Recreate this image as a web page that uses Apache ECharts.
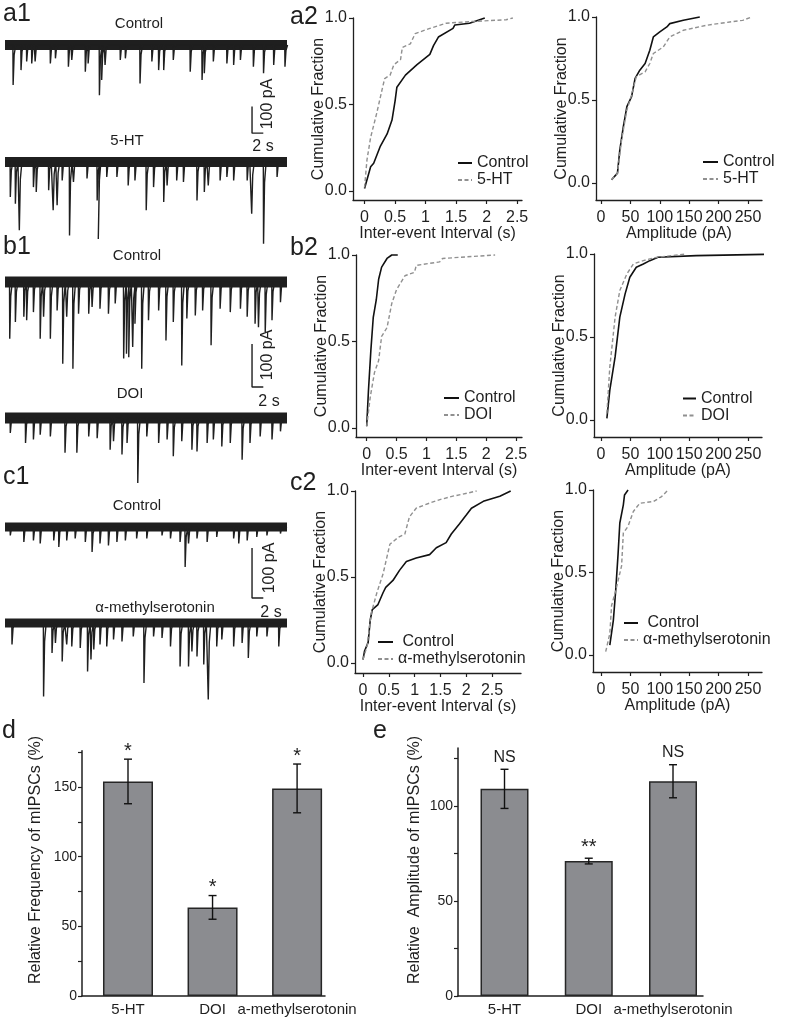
<!DOCTYPE html>
<html><head><meta charset="utf-8">
<script src="https://cdn.jsdelivr.net/npm/echarts@6/dist/echarts.min.js"></script>
<style>html,body{margin:0;padding:0;background:#fff}#c{width:787px;height:1022px}</style>
</head><body><div id="c"></div>
<script>
// ---------------- DATA ----------------
// Trace events: [time (s), amplitude (pA)], inward (downward) currents
const traceDuration = 50;
const a1Control = [[1.4,150],[2.8,94],[3.8,62],[4.7,69],[5.3,62],[8.0,69],[8.9,50],[11.2,81],[11.8,56],[14.2,100],[14.7,69],[16.7,188],[17.1,131],[17.7,75],[20.4,56],[21.3,50],[23.9,144],[26.0,62],[27.2,94],[28.1,94],[29.8,56],[32.8,100],[34.9,131],[35.3,106],[36.9,62],[39.3,69],[40.5,75],[41.7,56],[44.0,81],[45.8,106],[47.6,75],[49.6,81]];
const a1FiveHT = [[0.9,131],[1.8,156],[2.5,256],[5.0,94],[5.5,112],[7.7,106],[8.5,181],[9.2,162],[10.1,69],[11.4,275],[12.1,75],[14.5,62],[16.3,144],[16.5,288],[18.0,56],[19.8,56],[21.8,88],[23.0,69],[25.0,181],[26.3,94],[28.1,150],[28.7,88],[30.4,69],[31.6,75],[34.0,144],[35.3,112],[36.0,88],[38.1,69],[39.3,56],[40.5,69],[42.9,69],[43.7,194],[45.8,306],[48.2,56]];
const b1Control = [[0.8,132],[1.8,93],[3.3,81],[3.8,89],[5.0,70],[6.2,132],[6.8,81],[8.0,132],[9.2,66],[10.2,190],[10.9,81],[12.0,202],[13.0,74],[14.8,74],[15.4,58],[16.8,62],[18.3,74],[19.5,50],[21.0,178],[21.5,167],[21.9,175],[22.6,151],[23.0,97],[24.2,202],[25.4,89],[27.2,66],[28.5,136],[29.8,93],[31.3,194],[32.2,85],[33.7,78],[35.0,66],[36.5,147],[38.1,62],[39.9,70],[41.7,62],[42.9,81],[44.3,97],[44.9,105],[46.1,116],[47.3,89],[48.8,47]];
const b1DOI = [[0.9,35],[3.6,58],[5.0,50],[6.2,39],[8.0,43],[10.6,81],[12.7,81],[14.8,43],[16.3,47],[18.6,74],[19.2,54],[20.7,85],[21.6,58],[23.5,151],[25.1,43],[27.2,58],[28.7,50],[29.8,89],[31.3,54],[33.1,74],[34.0,78],[35.8,58],[36.9,50],[38.4,66],[39.9,58],[42.0,97],[43.4,58],[45.2,43],[47.3,50],[48.8,31]];
const c1Control = [[0.9,17],[3.3,30],[5.0,27],[6.2,33],[8.6,27],[9.5,40],[10.9,27],[12.4,23],[14.2,30],[15.4,50],[16.8,33],[18.3,37],[19.8,30],[21.3,27],[23.3,23],[25.1,23],[27.8,17],[29.3,23],[31.0,30],[31.9,80],[32.5,33],[34.0,23],[35.8,30],[37.5,20],[40.5,23],[41.4,33],[42.9,27],[44.6,20],[46.4,17],[48.8,13]];
const c1Alpha = [[1.2,43],[6.8,147],[8.3,60],[8.9,40],[10.1,77],[10.9,43],[11.8,47],[13.3,50],[14.6,97],[15.2,73],[15.7,53],[16.8,43],[18.0,47],[19.2,33],[20.7,37],[22.7,27],[24.6,120],[26.3,27],[27.8,30],[29.3,47],[31.0,87],[32.5,87],[33.1,57],[34.0,67],[35.2,83],[36.0,153],[37.5,47],[38.4,33],[40.5,47],[42.0,40],[43.1,70],[44.6,27],[46.4,27],[48.5,47]];
// scale bars: [x (s), y (pA)] path: 100 pA vertical, 2 s horizontal
const scaleBarA = [[43.8,208],[43.8,108],[45.8,108]];
const scaleBarB = [[43.8,172],[43.8,72],[45.8,72]];
const scaleBarC = [[43.8,150],[43.8,50],[45.8,50]];

// Cumulative distributions: [value, fraction]
const a2IntervalControl = [[0,0.015],[0.1,0.14],[0.15,0.16],[0.26,0.26],[0.37,0.33],[0.45,0.41],[0.5,0.52],[0.53,0.6],[0.67,0.67],[0.86,0.73],[1.07,0.79],[1.13,0.84],[1.21,0.89],[1.45,0.94],[1.48,0.96],[1.72,0.97],[1.97,1.0]];
const a2IntervalFiveHT = [[0,0.02],[0.04,0.18],[0.1,0.31],[0.2,0.45],[0.29,0.59],[0.33,0.65],[0.42,0.67],[0.48,0.73],[0.59,0.76],[0.62,0.83],[0.75,0.85],[0.83,0.91],[1.07,0.94],[1.34,0.97],[1.78,0.98],[2.32,0.99],[2.43,1.0]];
const a2AmpControl = [[18,0.02],[28,0.06],[32,0.2],[38,0.34],[44,0.46],[52,0.52],[58,0.63],[66,0.68],[75,0.72],[83,0.8],[89,0.88],[100,0.91],[112,0.94],[117,0.96],[140,0.98],[168,1.0]];
const a2AmpFiveHT = [[18,0.02],[28,0.06],[35,0.26],[44,0.44],[52,0.53],[60,0.64],[75,0.67],[83,0.72],[89,0.78],[106,0.82],[117,0.88],[140,0.92],[179,0.95],[219,0.97],[241,0.98],[256,1.0]];
const b2IntervalControl = [[0,0.01],[0.03,0.22],[0.07,0.45],[0.11,0.64],[0.16,0.74],[0.2,0.86],[0.25,0.93],[0.34,0.98],[0.42,1.0],[0.52,1.0]];
const b2IntervalDOI = [[0,0.01],[0.06,0.18],[0.13,0.32],[0.2,0.39],[0.25,0.53],[0.34,0.58],[0.42,0.72],[0.5,0.8],[0.64,0.88],[0.8,0.9],[0.83,0.94],[1.22,0.96],[1.27,0.98],[2.15,1.0]];
const b2AmpControl = [[10,0.01],[15,0.18],[24,0.38],[32,0.62],[41,0.76],[49,0.86],[60,0.92],[72,0.94],[83,0.96],[97,0.98],[162,0.99],[316,1.0]];
const b2AmpDOI = [[10,0.04],[15,0.32],[24,0.62],[32,0.78],[44,0.88],[55,0.94],[72,0.96],[94,0.98],[145,1.0]];
const c2IntervalControl = [[0,0.02],[0.03,0.07],[0.1,0.12],[0.14,0.25],[0.18,0.31],[0.29,0.34],[0.39,0.41],[0.44,0.44],[0.58,0.48],[0.71,0.54],[0.84,0.59],[1.03,0.61],[1.29,0.63],[1.42,0.67],[1.61,0.7],[1.71,0.75],[1.87,0.81],[2.0,0.86],[2.1,0.9],[2.33,0.94],[2.65,0.97],[2.86,1.0]];
const c2IntervalAlpha = [[0,0.02],[0.08,0.1],[0.16,0.29],[0.27,0.41],[0.39,0.52],[0.52,0.69],[0.68,0.73],[0.81,0.75],[0.9,0.85],[1.03,0.9],[1.29,0.93],[1.49,0.95],[1.74,0.97],[1.91,0.98],[2.2,1.0]];
const c2AmpControl = [[15,0.06],[18,0.07],[21,0.21],[25,0.39],[29,0.61],[32,0.8],[38,0.91],[40,0.97],[46,1.0]];
const c2AmpAlpha = [[8,0.02],[15,0.13],[18,0.3],[25,0.39],[35,0.54],[38,0.74],[46,0.78],[55,0.87],[66,0.92],[89,0.93],[103,0.96],[114,1.0]];

const intervalTicks = [0,0.5,1,1.5,2,2.5];
const ampTicks = [0,50,100,150,200,250];
const fractionTicks = [0,0.5,1];

// Bar charts
const barCategories = ['5-HT','DOI','a-methylserotonin'];
const freqMeans = [154, 63.6, 149];
const freqErr = [16, 8.5, 17.5];
const freqSig = ['*','*','*'];
const freqTicks = [0,25,50,75,100,125,150,175];
const freqLabels = [0,50,100,150];
const ampMeans = [109, 71, 113];
const ampErr = [10.3, 1.5, 8.7];
const ampSig = ['NS','**','NS'];
const ampTicksBar = [0,25,50,75,100,125];
const ampLabelsBar = [0,50,100];

// ---------------- CHART ----------------
const FONT = '"Liberation Sans", Arial, Helvetica, sans-serif';
const INK = '#1f1f1f';
const GRAY = '#909090';
const chart = echarts.init(document.getElementById('c'), null, {renderer:'canvas'});

const option = {animation:false, textStyle:{fontFamily:FONT, color:INK},
  grid:[], xAxis:[], yAxis:[], series:[], legend:[], graphic:[]};

function spikePath(events){
  const pts=[[0,0]];
  events.forEach(([t,a])=>{pts.push([t,0],[t+0.04,-a],[t+0.22,-a*0.25],[t+0.5,0]);});
  pts.push([traceDuration,0]);
  return pts;
}

const traces = [
  {ev:a1Control, base:45, scale:0.267, yMax:40, yMin:-330, band:10},
  {ev:a1FiveHT, base:162, scale:0.267, yMax:40, yMin:-330, band:10, bar:scaleBarA},
  {ev:b1Control, base:282, scale:0.43, yMax:25, yMin:-250, band:11},
  {ev:b1DOI, base:418, scale:0.43, yMax:25, yMin:-250, band:11, bar:scaleBarB},
  {ev:c1Control, base:527, scale:0.5, yMax:20, yMin:-200, band:9},
  {ev:c1Alpha, base:623, scale:0.5, yMax:20, yMin:-200, band:9, bar:scaleBarC}
];
traces.forEach((tr,i)=>{
  option.grid.push({left:5, top:tr.base-tr.yMax*tr.scale, width:282, height:(tr.yMax-tr.yMin)*tr.scale});
  option.xAxis.push({type:'value', gridIndex:i, min:0, max:traceDuration, show:false});
  option.yAxis.push({type:'value', gridIndex:i, min:tr.yMin, max:tr.yMax, show:false});
  option.series.push({type:'line', xAxisIndex:i, yAxisIndex:i, data:[[0,0],[traceDuration,0]], symbol:'none', silent:true,
    lineStyle:{color:INK, width:tr.band}});
  option.series.push({type:'line', xAxisIndex:i, yAxisIndex:i, data:spikePath(tr.ev), symbol:'none', silent:true, clip:false,
    lineStyle:{color:INK, width:1.4}});
  if(tr.bar){
    option.series.push({type:'line', xAxisIndex:i, yAxisIndex:i, data:tr.bar, symbol:'none', silent:true, clip:false,
      lineStyle:{color:INK, width:1.4}});
  }
});

const cdfs = [
  {left:353, top:18, width:169, height:182, xMin:-0.189, xMax:2.58, yMin:-0.052, ticks:intervalTicks, xName:'Inter-event Interval (s)',
   ctrl:a2IntervalControl, trt:a2IntervalFiveHT, trtName:'5-HT', leg:{left:457, top:154.5, w:14}},
  {left:596, top:17, width:166, height:183, xMin:-8.5, xMax:273.8, yMin:-0.102, ticks:ampTicks, xName:'Amplitude (pA)',
   ctrl:a2AmpControl, trt:a2AmpFiveHT, trtName:'5-HT', leg:{left:702, top:153.5, w:15}},
  {left:356, top:255, width:166, height:182, xMin:-0.179, xMax:2.6, yMin:-0.052, ticks:intervalTicks, xName:'Inter-event Interval (s)',
   ctrl:b2IntervalControl, trt:b2IntervalDOI, trtName:'DOI', leg:{left:443, top:389.5, w:15}},
  {left:594, top:254, width:168, height:183, xMin:-11.9, xMax:273.8, yMin:-0.102, ticks:ampTicks, xName:'Amplitude (pA)',
   ctrl:b2AmpControl, trt:b2AmpDOI, trtName:'DOI', leg:{left:682, top:390, w:13}},
  {left:355, top:491, width:166, height:182, xMin:-0.155, xMax:3.06, yMin:-0.058, ticks:intervalTicks, xName:'Inter-event Interval (s)',
   ctrl:c2IntervalControl, trt:c2IntervalAlpha, trtName:'α-methylserotonin', leg:{left:377, top:633.5, w:15, pad:true}},
  {left:593, top:490, width:169, height:182, xMin:-13.6, xMax:273.8, yMin:-0.103, ticks:ampTicks, xName:'Amplitude (pA)',
   ctrl:c2AmpControl, trt:c2AmpAlpha, trtName:'α-methylserotonin', leg:{left:623, top:614.5, w:14, pad:true}}
];
cdfs.forEach((c,k)=>{
  const gi = option.grid.length;
  option.grid.push({left:c.left, top:c.top, width:c.width, height:c.height});
  option.xAxis.push({type:'value', gridIndex:gi, min:c.xMin, max:c.xMax,
    axisLine:{show:true, onZero:false, lineStyle:{color:INK, width:1.3}},
    axisTick:{show:true, customValues:c.ticks, length:4, lineStyle:{color:INK, width:1.2}},
    axisLabel:{show:true, customValues:c.ticks, fontSize:16, color:INK, margin:10, formatter:v=>String(v)},
    splitLine:{show:false},
    name:c.xName, nameLocation:'middle', nameGap:26, nameMoveOverlap:false, nameTextStyle:{fontSize:16, color:INK}});
  option.yAxis.push({type:'value', gridIndex:gi, min:c.yMin, max:1,
    axisLine:{show:true, onZero:false, lineStyle:{color:INK, width:1.3}},
    axisTick:{show:true, customValues:fractionTicks, length:4, lineStyle:{color:INK, width:1.2}},
    axisLabel:{show:true, customValues:fractionTicks, fontSize:16, color:INK, margin:6, formatter:v=>v.toFixed(1)},
    splitLine:{show:false},
    name:'Cumulative Fraction', nameLocation:'middle', nameGap:26, nameMoveOverlap:false, nameTextStyle:{fontSize:16, color:INK}});
  option.series.push({type:'line', name:'Control', xAxisIndex:gi, yAxisIndex:gi, data:c.ctrl, symbol:'none', clip:false,
    lineStyle:{color:'#111', width:1.6}, itemStyle:{color:'#111'}});
  option.series.push({type:'line', name:c.trtName, xAxisIndex:gi, yAxisIndex:gi, data:c.trt, symbol:'none', clip:false,
    lineStyle:{color:GRAY, width:1.4, type:[4,2.5]}, itemStyle:{color:GRAY}});
  option.legend.push({left:c.leg.left, top:c.leg.top, orient:'vertical', padding:0, itemGap:0,
    itemWidth:c.leg.w, itemHeight:12, selectedMode:false, data:['Control', c.trtName],
    itemStyle:{opacity:0},
    formatter: c.leg.pad ? (n => n==='Control' ? ' Control' : n) : (n=>n),
    textStyle:{fontSize:16, color:INK, lineHeight:17}});
});

function errRenderer(sig){
  return function(params, api){
    const x=api.value(0), m=api.value(1), e=api.value(2);
    const t=api.coord([x,m+e]), b=api.coord([x,m-e]);
    const s=sig[params.dataIndex];
    const cap=4, st={stroke:'#111', lineWidth:1.4};
    return {type:'group', children:[
      {type:'line', shape:{x1:t[0],y1:t[1],x2:b[0],y2:b[1]}, style:st},
      {type:'line', shape:{x1:t[0]-cap,y1:t[1],x2:t[0]+cap,y2:t[1]}, style:st},
      {type:'line', shape:{x1:b[0]-cap,y1:b[1],x2:b[0]+cap,y2:b[1]}, style:st},
      {type:'text', style:{text:s, x:t[0], y:t[1]-(s==='NS'?12:(s==='**'?11:8)),
        textAlign:'center', textVerticalAlign:'middle', fontSize:s==='NS'?16:20,
        fontFamily:FONT, fill:INK}}
    ]};
  };
}

const bars = [
  {left:82, top:750.8, width:243, height:245.2, xMin:0.456, xMax:3.33, yMax:176, ticks:freqTicks, labels:freqLabels,
   means:freqMeans, err:freqErr, sig:freqSig, barWidth:50},
  {left:458, top:748, width:245, height:248, xMin:0.448, xMax:3.356, yMax:130.5, ticks:ampTicksBar, labels:ampLabelsBar,
   means:ampMeans, err:ampErr, sig:ampSig, barWidth:48}
];
bars.forEach(b=>{
  const gi = option.grid.length;
  option.grid.push({left:b.left, top:b.top, width:b.width, height:b.height});
  option.xAxis.push({type:'value', gridIndex:gi, min:b.xMin, max:b.xMax,
    axisLine:{show:true, onZero:false, lineStyle:{color:INK, width:1.5}},
    axisTick:{show:false},
    axisLabel:{show:true, customValues:[1,2,3], fontSize:15, color:INK, margin:6, formatter:v=>barCategories[Math.round(v)-1]},
    splitLine:{show:false}});
  option.yAxis.push({type:'value', gridIndex:gi, min:0, max:b.yMax,
    axisLine:{show:true, onZero:false, lineStyle:{color:INK, width:1.5}},
    axisTick:{show:true, customValues:b.ticks, length:4, lineStyle:{color:INK, width:1.2}},
    axisLabel:{show:true, customValues:b.labels, fontSize:14, color:INK, margin:5},
    splitLine:{show:false}});
  option.series.push({type:'bar', xAxisIndex:gi, yAxisIndex:gi, barWidth:b.barWidth, silent:true,
    data:b.means.map((v,i)=>[i+1,v]),
    itemStyle:{color:'#8b8c90', borderColor:'#262626', borderWidth:1.5}});
  option.series.push({type:'custom', xAxisIndex:gi, yAxisIndex:gi, silent:true, clip:false,
    data:b.means.map((v,i)=>[i+1,v,b.err[i]]), renderItem:errRenderer(b.sig), z:5});
});

// Text annotations
function txt(text, x, y, size, opts={}){
  return {type:'text', x, y, rotation:opts.rot||0, silent:true,
    style:{text, x:0, y:0, textAlign:opts.align||'center', textVerticalAlign:'middle',
      fontSize:size, fontFamily:FONT, fill:INK}};
}
const R = Math.PI/2;
option.graphic = [
  txt('a1',3,14,25,{align:'left'}), txt('a2',290,17,25,{align:'left'}),
  txt('b1',3,247,25,{align:'left'}), txt('b2',290,248,25,{align:'left'}),
  txt('c1',3,477,25,{align:'left'}), txt('c2',290,483,25,{align:'left'}),
  txt('d',2,731,25,{align:'left'}), txt('e',373,731,25,{align:'left'}),
  txt('Control',139,24,15), txt('5-HT',127,141,15),
  txt('Control',137,256,15), txt('DOI',130,394,15),
  txt('Control',137,506,15), txt('α-methylserotonin',155,608,15),
  txt('100 pA',268,104,16,{rot:R}), txt('2 s',263,147,16),
  txt('100 pA',268,355,16,{rot:R}), txt('2 s',269,402,16),
  txt('100 pA',270,568,16,{rot:R}), txt('2 s',271,613,16),
  txt('Relative Frequency of mIPSCs (%)',36,860,16,{rot:R}),
  txt('Relative  Amplitude of mIPSCs (%)',415,860,16,{rot:R})
];

chart.setOption(option);
</script></body></html>
